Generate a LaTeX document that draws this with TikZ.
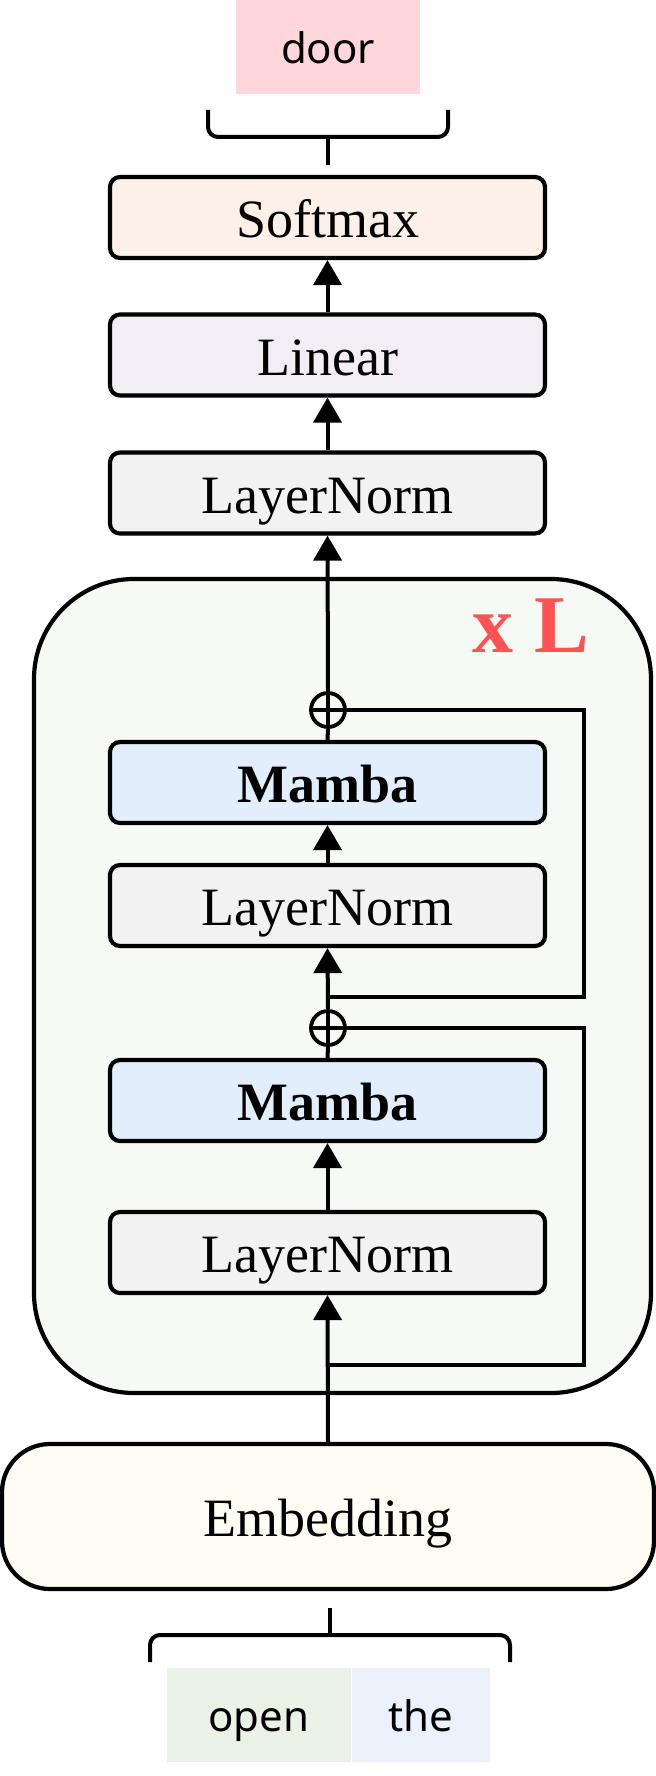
\documentclass[tikz,border=0pt]{standalone}
\usepackage{fontspec}
\setmainfont{Liberation Serif}
\newfontfamily\tokfont{Noto Sans}
\usetikzlibrary{positioning, arrows.meta, calc}

\definecolor{doorpink}{HTML}{FFD7DA}
\definecolor{softbg}{HTML}{FDF0E8}
\definecolor{linbg}{HTML}{F3EDF5}
\definecolor{normbg}{HTML}{F2F2F2}
\definecolor{mambabg}{HTML}{E2EEFB}
\definecolor{blockbg}{HTML}{F7F9F4}
\definecolor{embbg}{HTML}{FFFCF4}
\definecolor{opengreen}{HTML}{EAF2E6}
\definecolor{theblue}{HTML}{EAF1FA}
\definecolor{xlred}{HTML}{FF5252}

\begin{document}
\begin{tikzpicture}[x=0.5pt, y=-0.5pt,
    layer/.style={draw, line width=2.1pt, rounded corners=5pt, minimum width=217.5pt,
      minimum height=40.5pt, inner sep=0pt, text height=20pt, text depth=0pt,
      font=\fontsize{27}{30}\selectfont},
    tok/.style={inner sep=0pt, minimum height=47pt, text height=16pt, text depth=0pt,
      font=\tokfont\fontsize{21}{24}\selectfont},
    addop/.style={circle, draw, line width=1.9pt, minimum size=17pt, inner sep=0pt, fill=blockbg,
      path picture={\draw[line width=1.9pt]
        (path picture bounding box.north) -- (path picture bounding box.south)
        (path picture bounding box.west) -- (path picture bounding box.east);}},
    arr/.style={line width=2pt, -{Triangle[width=14pt, length=12.5pt]}},
    link/.style={line width=2pt},
    brc/.style={line width=2pt, rounded corners=5pt}]

  \useasboundingbox (0,0) rectangle (656,1776);

  % repeated block
  \node[draw, line width=2.1pt, rounded corners=50pt, fill=blockbg, minimum width=308.5pt,
    minimum height=407pt, inner sep=0pt] (blk) at (342.5,986) {};
  \node[text=xlred, inner sep=0pt, font=\fontsize{41}{41}\selectfont\bfseries] (rep) at (531,626) {x L};

  % output side
  \node[tok, fill=doorpink, minimum width=92pt] (door) at (328,47.5) {door};
  \node[layer, fill=softbg] (soft) at (327.5,217.5) {Softmax};
  \node[layer, fill=linbg] (lin) at (327.5,355) {Linear};
  \node[layer, fill=normbg] (ln0) at (327.5,493) {LayerNorm};

  % inside the block
  \node[addop] (add1) at (328,710) {};
  \node[layer, fill=mambabg, font=\fontsize{27}{30}\selectfont\bfseries] (m1) at (327.5,782.5) {Mamba};
  \node[layer, fill=normbg] (ln1) at (327.5,905.5) {LayerNorm};
  \node[addop] (add2) at (328,1028) {};
  \node[layer, fill=mambabg, font=\fontsize{27}{30}\selectfont\bfseries] (m2) at (327.5,1100.5) {Mamba};
  \node[layer, fill=normbg] (ln2) at (327.5,1252.5) {LayerNorm};

  % input side
  \node[draw, line width=2.1pt, rounded corners=24pt, fill=embbg, minimum width=326pt,
    minimum height=72.5pt, inner sep=0pt, text height=20pt, text depth=0pt,
    font=\fontsize{27}{30}\selectfont] (emb) at (328,1516.5) {Embedding};
  \node[tok, fill=opengreen, minimum width=92pt] (open) at (259,1715) {open};
  \node[tok, fill=theblue, minimum width=69pt, right=0pt of open] (the) {the};

  % main path
  \draw[arr] (emb.north) -- (ln2.south);
  \draw[arr] (ln2) -- (m2);
  \draw[link] (m2.north) -- (add2.south);
  \draw[arr] (add2.north) -- (ln1.south);
  \draw[arr] (ln1) -- (m1);
  \draw[link] (m1.north) -- (add1.south);
  \draw[arr] (add1.north) -- (ln0.south);
  \draw[arr] (ln0) -- (lin);
  \draw[arr] (lin) -- (soft);

  % residual branches
  \coordinate (br2) at (328,1365);
  \coordinate (br1) at (328,997);
  \draw[link] (br2) -- ++(256,0) |- (add2.east);
  \draw[link] (br1) -- ++(256,0) |- (add1.east);

  % braces
  \coordinate (topL) at (208,110);
  \coordinate (topR) at (448,110);
  \coordinate (topM) at (328,137);
  \coordinate (botL) at (150,1662);
  \coordinate (botR) at (510,1662);
  \coordinate (botM) at (330,1635);
  \draw[brc] (topL) |- (topM) -| (topR);
  \draw[line width=2pt] (topM) .. controls ($(topM)+(0,6)$) .. ($(topM)+(0,28)$);
  \draw[brc] (botL) |- (botM) -| (botR);
  \draw[line width=2pt] (botM) .. controls ($(botM)+(0,-6)$) .. ($(botM)+(0,-27)$);
\end{tikzpicture}
\end{document}
